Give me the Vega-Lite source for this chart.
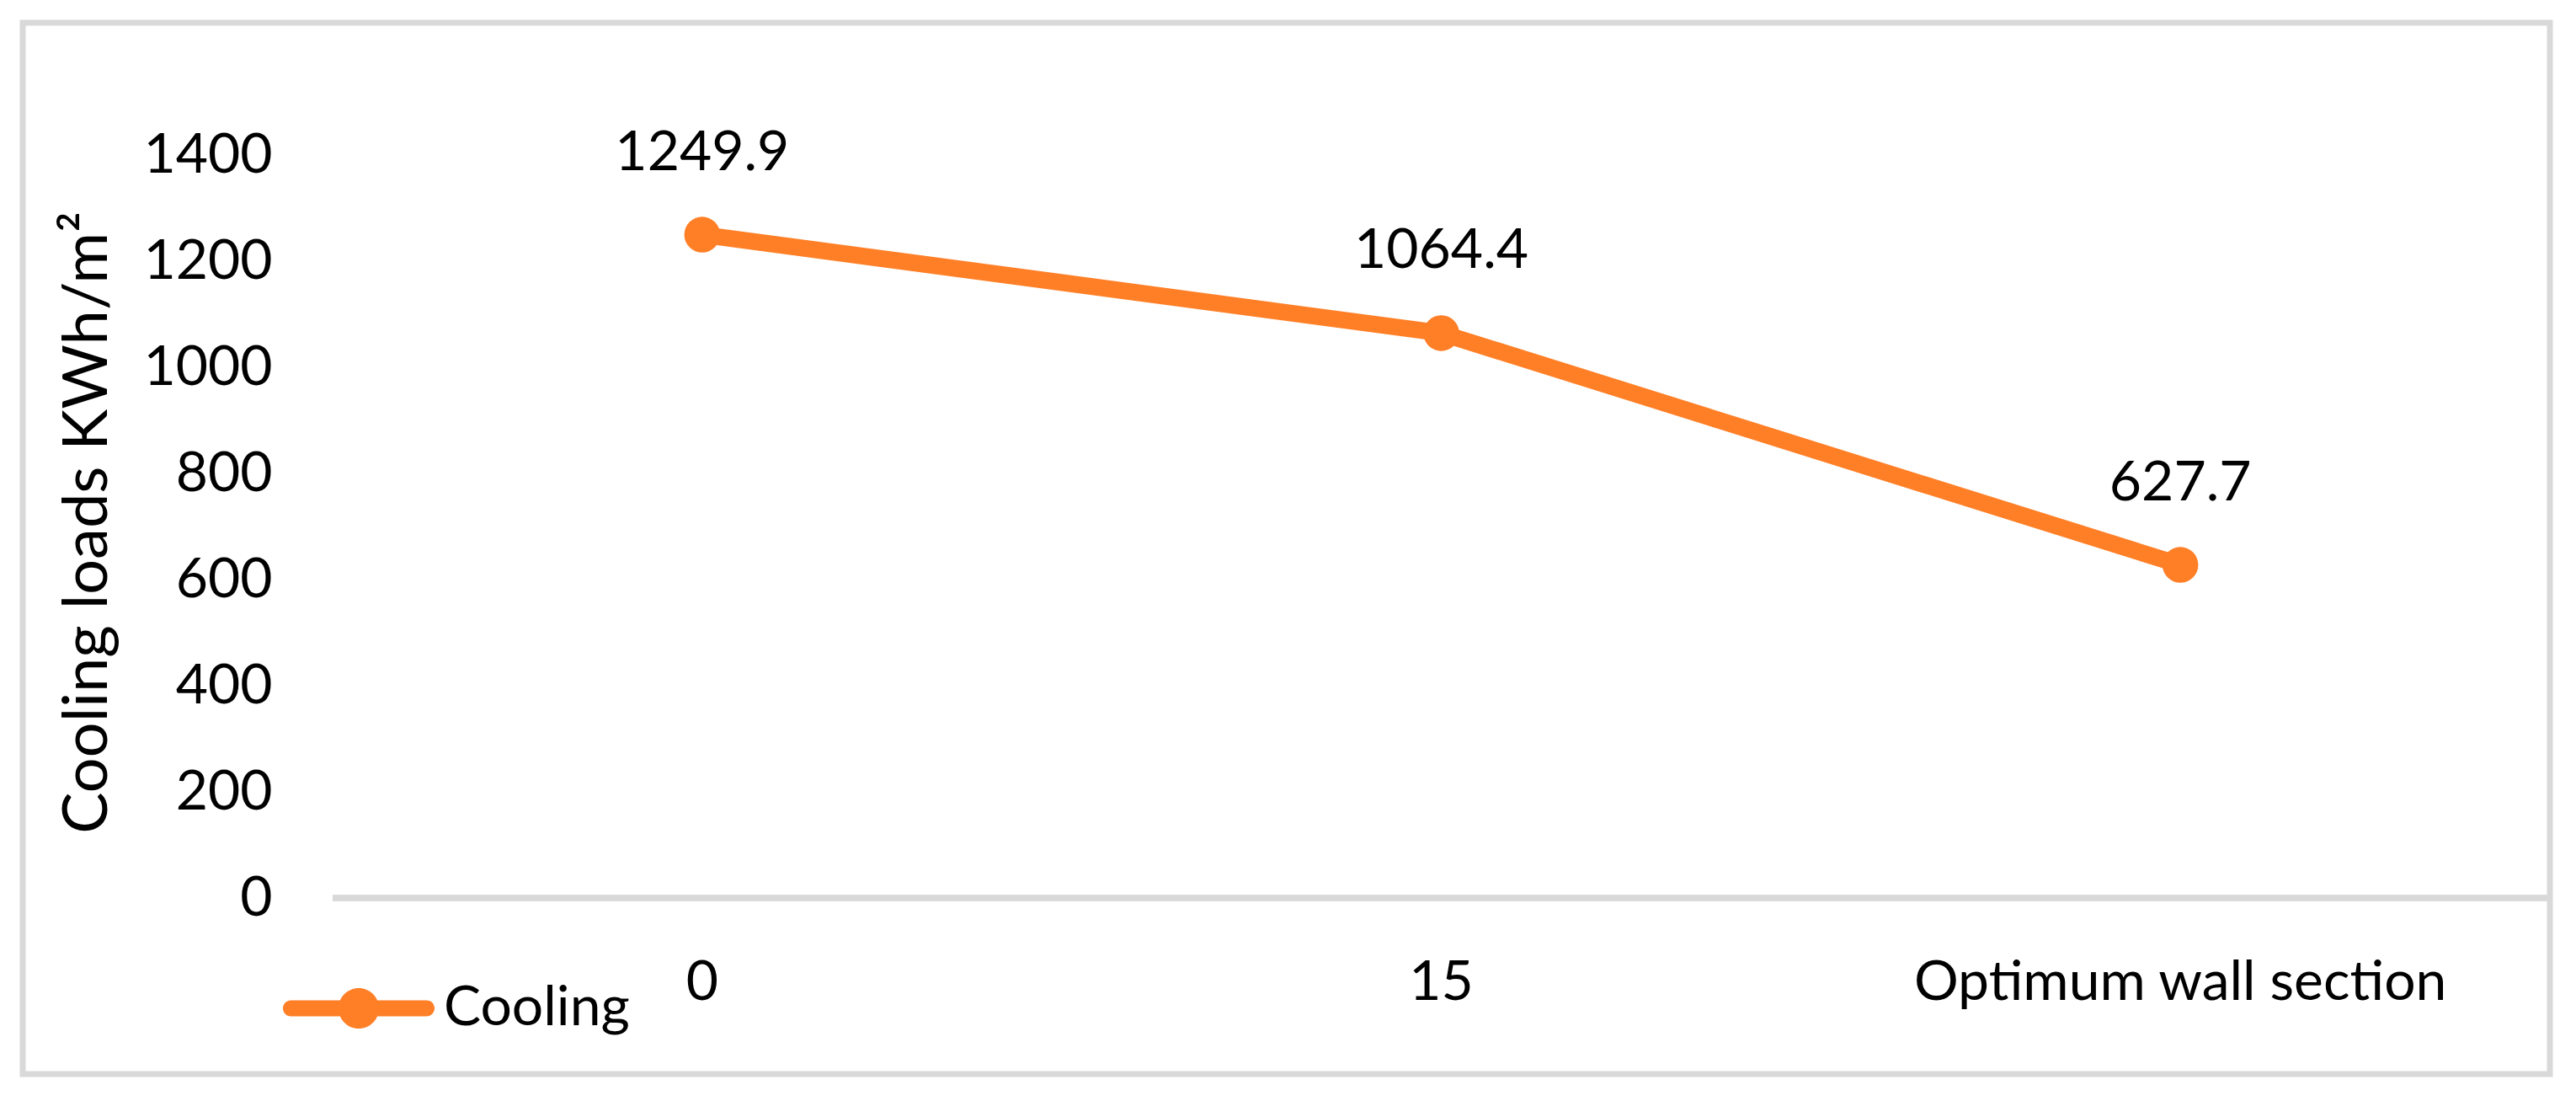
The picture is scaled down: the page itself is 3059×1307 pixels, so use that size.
{
  "$schema": "https://vega.github.io/schema/vega-lite/v6.json",
  "width": 3001,
  "height": 1248,
  "autosize": {"type": "none"},
  "padding": {"left": 27, "top": 27, "right": 31, "bottom": 32},
  "background": "white",
  "config": {
    "view": {"stroke": "#d9d9d9", "strokeWidth": 7},
    "font": "Lato"
  },
  "data": {
    "values": [
      {"cat": "0", "value": 1249.9, "series": "Cooling"},
      {"cat": "15", "value": 1064.4, "series": "Cooling"},
      {"cat": "Optimum wall section", "value": 627.7, "series": "Cooling"}
    ]
  },
  "encoding": {
    "x": {
      "field": "cat",
      "type": "nominal",
      "sort": null,
      "bandPosition": 0.5,
      "scale": {"type": "band", "domain": ["0", "15", "Optimum wall section"], "paddingInner": 0, "paddingOuter": 0.20965, "align": 1},
      "axis": {
        "orient": "bottom",
        "offset": -209,
        "domain": false,
        "ticks": false,
        "tickSize": 0,
        "grid": false,
        "labelAngle": 0,
        "labelBaseline": "alphabetic",
        "labelPadding": 120,
        "labelFontSize": 66,
        "labelFont": "Lato",
        "labelColor": "black",
        "labelLimit": 0,
        "title": null
      }
    },
    "y": {
      "field": "value",
      "type": "quantitative",
      "scale": {"domain": [-331.7, 1649.2], "nice": false, "zero": false},
      "axis": {
        "values": [0, 200, 400, 600, 800, 1000, 1200, 1400],
        "format": "d",
        "offset": -296,
        "domain": false,
        "ticks": false,
        "tickSize": 0,
        "grid": false,
        "labelPadding": 0,
        "labelFontSize": 66,
        "labelFont": "Lato",
        "labelColor": "black",
        "title": "Cooling loads KWh/m²",
        "titleFont": "Lato",
        "titleFontSize": 74,
        "titleFontWeight": "normal",
        "titleColor": "black",
        "titleAngle": 270,
        "titleAlign": "center",
        "titleBaseline": "alphabetic",
        "titleX": -197,
        "titleY": 593
      }
    }
  },
  "layer": [
    {
      "mark": {"type": "rule", "color": "#d9d9d9", "strokeWidth": 7},
      "encoding": {
        "x": {"datum": "0", "type": "nominal", "bandPosition": 0},
        "x2": {"datum": "Optimum wall section", "bandPosition": 1},
        "y": {"datum": 0, "type": "quantitative"}
      }
    },
    {
      "mark": {"type": "line", "color": "#FF7F27", "strokeWidth": 20, "strokeCap": "round", "strokeJoin": "round"}
    },
    {
      "mark": {"type": "point", "filled": true, "size": 1810, "opacity": 1, "shape": "circle"},
      "encoding": {
        "color": {
          "field": "series",
          "type": "nominal",
          "scale": {"range": ["#FF7F27"]},
          "legend": {
            "title": null,
            "orient": "none",
            "legendX": 309,
            "legendY": 1080,
            "padding": 0,
            "symbolType": "M-0.2,-0.106 L-0.894,-0.106 A0.106,0.106 0 0,0 -0.894,0.106 L-0.2,0.106 Z M-0.267,0 A0.267,0.267 0 1,0 0.267,0 A0.267,0.267 0 1,0 -0.267,0 Z M0.894,-0.106 L0.2,-0.106 L0.2,0.106 L0.894,0.106 A0.106,0.106 0 0,0 0.894,-0.106 Z",
            "symbolSize": 32400,
            "symbolStrokeWidth": 0,
            "symbolOpacity": 1,
            "labelFontSize": 66,
            "labelFont": "Lato",
            "labelColor": "black",
            "labelOffset": 11,
            "labelLimit": 0
          }
        }
      }
    },
    {
      "mark": {"type": "text", "dy": -77, "baseline": "alphabetic", "fontSize": 66, "font": "Lato", "color": "black"},
      "encoding": {
        "text": {"field": "value", "type": "quantitative", "format": ".1f"}
      }
    }
  ]
}
